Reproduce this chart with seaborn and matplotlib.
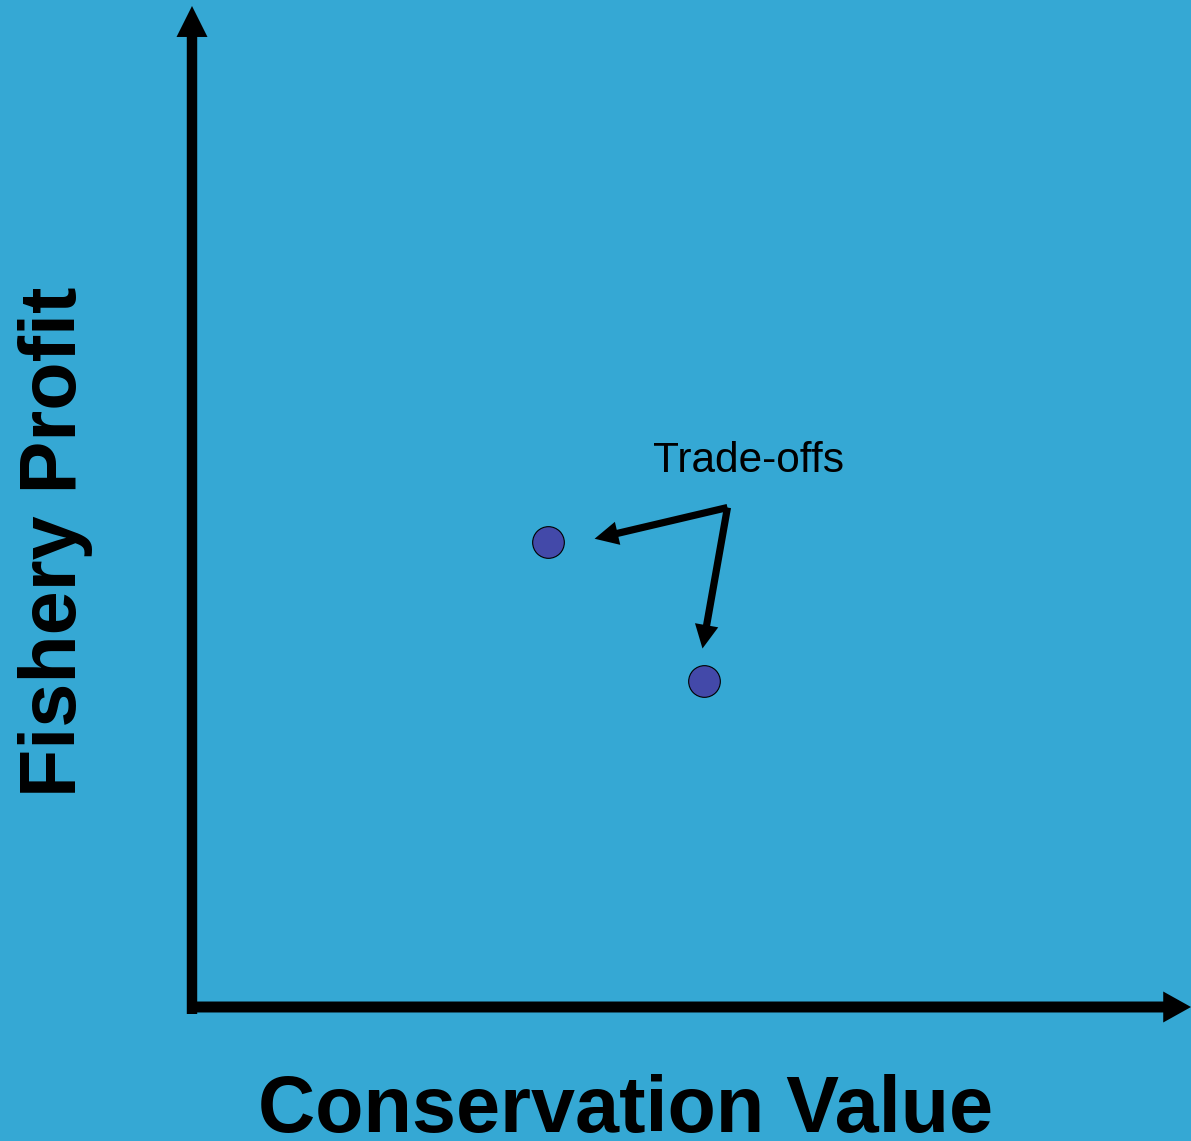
import matplotlib
matplotlib.use("Agg")
import matplotlib.pyplot as plt
import pandas as pd
import seaborn as sns

# data (arbitrary units, axes run 0..10)
cons_value = [3.56, 5.13]
fish_profit = [4.62, 3.24]
label_xy = (5.36, 4.96)
note_text = "Trade-offs"

bg = "#35a8d4"
pt_col = "#4349a9"

sns.set_style("white", {"axes.facecolor": bg, "figure.facecolor": bg})
plt.rcParams["font.family"] = ["Liberation Sans", "DejaVu Sans"]
plt.rcParams["text.color"] = "black"
plt.rcParams["axes.labelcolor"] = "black"

fig = plt.figure(figsize=(11.91, 11.41), dpi=100)
ax = fig.add_axes([192 / 1191, (1141 - 1007) / 1141, 999 / 1191, 1007 / 1141])
ax.set_xlim(0, 10)
ax.set_ylim(0, 10)

df = pd.DataFrame({"cons": cons_value, "fish": fish_profit})
sns.scatterplot(data=df, x="cons", y="fish", ax=ax, s=520, color=pt_col,
                edgecolor="black", linewidth=0.8, zorder=3, clip_on=False)

# axis arrows
ax.annotate("", xy=(0, 1.0 - 6 / 1007), xytext=(0, -7 / 1007),
            xycoords="axes fraction", textcoords="axes fraction",
            arrowprops=dict(arrowstyle="simple,head_length=22.3,head_width=22.3,tail_width=7.5",
                            mutation_scale=1, lw=0, color="black",
                            shrinkA=0, shrinkB=0), annotation_clip=False)
ax.annotate("", xy=(1.0, 0), xytext=(-5 / 999, 0),
            xycoords="axes fraction", textcoords="axes fraction",
            arrowprops=dict(arrowstyle="simple,head_length=20,head_width=22.3,tail_width=7.9",
                            mutation_scale=1, lw=0, color="black",
                            shrinkA=0, shrinkB=0), annotation_clip=False)

# trade-off arrows
ax.text(5.57, 5.31, note_text, fontsize=30.5, ha="center", va="baseline")
targets = [(4.03, 4.65), (5.11, 3.56)]
for tx, ty in targets:
    ax.annotate("", xy=(tx, ty), xytext=label_xy,
                arrowprops=dict(arrowstyle="simple,head_length=17,head_width=17,tail_width=5.2",
                                mutation_scale=1, lw=0, color="black",
                                shrinkA=0, shrinkB=0))

for s in ax.spines.values():
    s.set_visible(False)
ax.set_xticks([])
ax.set_yticks([])

ax.set_xlabel("Conservation Value", fontsize=57, fontweight="bold")
ax.xaxis.set_label_coords(0.434, -125 / 1007)
ax.xaxis.label.set_va("baseline")
ax.xaxis.label.set_ha("center")
ax.set_ylabel("Fishery Profit", fontsize=57, fontweight="bold")
ax.yaxis.set_label_coords(-116 / 999, 0.462)
ax.yaxis.label.set_va("baseline")
ax.yaxis.label.set_ha("center")

fig.savefig("out.png", dpi=100, facecolor=bg)
